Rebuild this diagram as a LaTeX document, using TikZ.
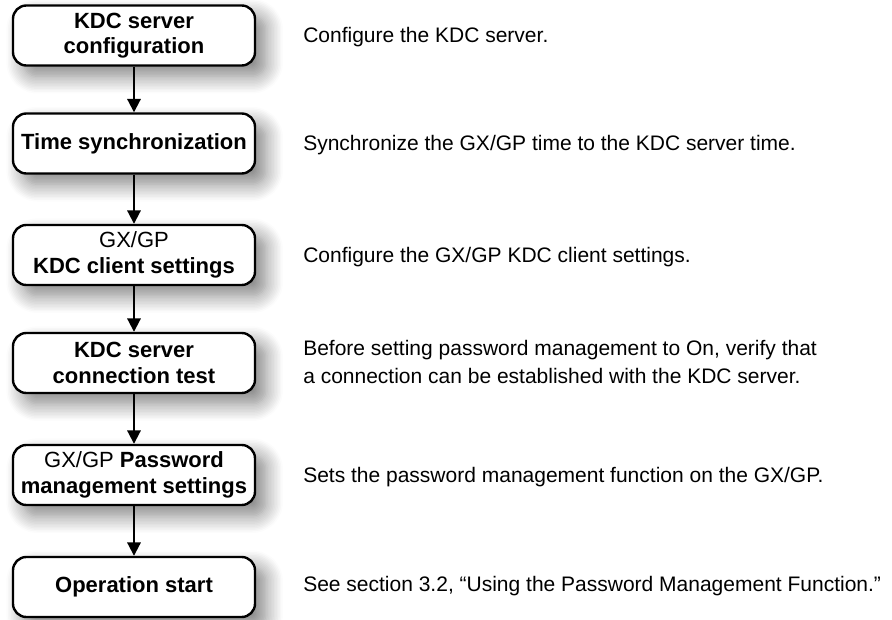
\documentclass[tikz,border=0pt]{standalone}
\usepackage{fontspec}
\setmainfont{Liberation Sans}
\usetikzlibrary{arrows.meta,positioning,shadows.blur}

\begin{document}
\begin{tikzpicture}[x=.75pt,y=-.75pt,
  stepbox/.style={draw=black,line width=1.8pt,rounded corners=10pt,fill=white,
    minimum width=181.5pt,minimum height=45pt,align=center,inner sep=2pt,
    font=\fontsize{16.5}{19}\selectfont\bfseries,
    blur shadow={shadow xshift=8pt,shadow yshift=-8pt,shadow blur radius=13pt,shadow blur steps=12,shadow opacity=50}},
  note/.style={anchor=west,align=left,inner sep=0pt,font=\fontsize{15.75}{21}\selectfont},
  flow/.style={line width=1.5pt,-{Triangle[length=10pt,width=10pt]}}]
\useasboundingbox (0,0) rectangle (892,620);
% steps
\node[stepbox] (kdc) at (134,35.5) {KDC server\\configuration};
\node[stepbox] (sync) at (134,143.5) {Time synchronization};
\node[stepbox] (client) at (134,255) {\mdseries GX/GP\\KDC client settings};
\node[stepbox] (test) at (134,363) {KDC server\\connection test};
\node[stepbox] (pwd) at (134,475) {{\mdseries GX/GP} Password\\management settings};
\node[stepbox] (start) at (134,587) {Operation start};
% arrows
\draw[flow] (kdc) -- (sync);
\draw[flow] (sync) -- (client);
\draw[flow] (client) -- (test);
\draw[flow] (test) -- (pwd);
\draw[flow] (pwd) -- (start);
% notes
\node[note] (kdcnote) at (303,37) {Configure the KDC server.};
\node[note] (syncnote) at (303,145) {Synchronize the GX/GP time to the KDC server time.};
\node[note] (clientnote) at (303,257) {Configure the GX/GP KDC client settings.};
\node[note] (testnote) at (303,362) {Before setting password management to On, verify that\\a connection can be established with the KDC server.};
\node[note] (pwdnote) at (303,477) {Sets the password management function on the GX/GP.};
\node[note] (startnote) at (303,586) {See section 3.2, \textquotedblleft Using the Password Management Function.\textquotedblright};
\end{tikzpicture}
\end{document}
